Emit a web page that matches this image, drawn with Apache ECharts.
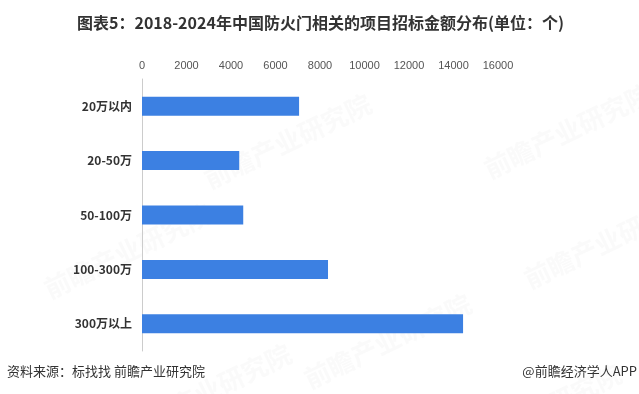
<!DOCTYPE html>
<html><head><meta charset="utf-8">
<script src="https://cdn.jsdelivr.net/npm/echarts@6/dist/echarts.min.js"></script>
<style>html,body{margin:0;padding:0;background:#fff;}#c{width:639px;height:394px;}</style>
</head><body><div id="c"></div>
<script>
const categories = ['20万以内', '20-50万', '50-100万', '100-300万', '300万以上'];
const values = [7060, 4370, 4550, 8360, 14430];
const tickMax = 16000;
const tickStep = 2000;
const titleText = '图表5：2018-2024年中国防火门相关的项目招标金额分布(单位：个)';
const sourceText = '资料来源：标找找 前瞻产业研究院';
const brandText = '@前瞻经济学人APP';

const chart = echarts.init(document.getElementById('c'));
const wm = [];
[[40,200],[300,290],[520,190],[200,90],[480,80],[120,340],[450,360]].forEach(p=>{
  wm.push({type:'text', left:p[0], top:p[1], rotation:Math.PI/7, z:0,
    style:{text:'前瞻产业研究院', fill:'rgba(210,210,210,0.12)', font:'bold 26px "Noto Sans CJK SC"'}});
});
chart.setOption({
  animation:false,
  backgroundColor:'#fff',
  title:{text:titleText, left:72, top:10,
    textStyle:{fontSize:16, fontWeight:'bold', color:'#333', fontFamily:'"Noto Sans CJK SC"'}},
  graphic:[...wm,
    {type:'text', left:7, top:365, style:{text:sourceText, fill:'#333', font:'13px "Noto Sans CJK SC"'}},
    {type:'text', right:2, top:365, style:{text:brandText, fill:'#333', font:'13px "Noto Sans CJK SC"'}}
  ],
  grid:{left:142, right:141, top:79, bottom:43},
  xAxis:{type:'value', position:'top', min:0, max:tickMax, interval:tickStep,
    axisLine:{show:false}, axisTick:{show:false}, splitLine:{show:false},
    axisLabel:{color:'#555', fontSize:11, margin:8, fontFamily:'"Liberation Sans", Arial',
      formatter:v=>String(v)}},
  yAxis:{type:'category', data:categories, inverse:true,
    axisLine:{show:true, lineStyle:{color:'#ccc'}}, axisTick:{show:false},
    axisLabel:{color:'#333', fontSize:12, fontWeight:'bold', margin:10, fontFamily:'"Noto Sans CJK SC"'}},
  series:[{type:'bar', data:values, barWidth:19, itemStyle:{color:'#3C80E2'}}]
});
</script></body></html>
